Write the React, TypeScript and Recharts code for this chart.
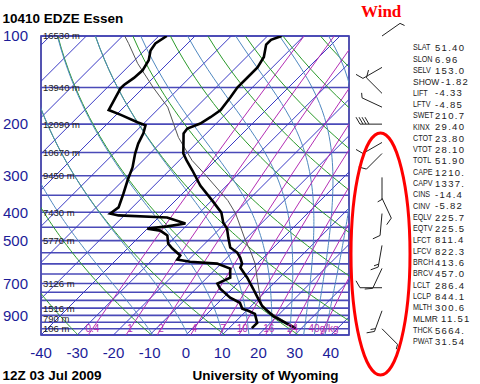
import React from 'react';
import { ComposedChart, Line, XAxis, YAxis, ReferenceLine, ReferenceArea, Scatter } from 'recharts';

// ---------- sounding data ----------
const tempPressure = [100, 103, 107, 118, 128, 138, 150, 162, 179, 189, 199, 207, 215, 252, 266, 288, 324, 365, 401, 434, 455, 488, 528, 549, 571, 599, 618, 669, 730, 789, 834, 854, 903, 961, 995];
const tempValues = [-56.1, -58.0, -58.0, -55.2, -54.1, -54.1, -54.1, -53.3, -52.5, -53.3, -54.4, -56.6, -56.3, -50.8, -48.0, -43.6, -37.3, -29.8, -24.0, -20.7, -18.0, -15.2, -11.9, -8.6, -6.4, -4.2, -3.6, 1.1, 5.8, 9.9, 12.9, 14.6, 18.7, 24.8, 28.4];

const dewPressure = [100, 106, 112, 121, 131, 139, 147, 151, 162, 179, 186, 197, 202, 215, 233, 252, 281, 311, 345, 385, 404, 410, 417, 437, 447, 455, 462, 480, 512, 532, 562, 580, 590, 599, 623, 669, 701, 730, 783, 815, 854, 868, 889, 954, 995];
const dewValues = [-87.8, -88.9, -88.3, -86.1, -85.0, -85.3, -86.1, -86.1, -85.0, -83.4, -78.7, -72.1, -69.0, -67.4, -66.0, -64.1, -61.0, -58.8, -56.3, -53.8, -54.4, -51.6, -37.6, -30.9, -35.1, -40.0, -35.9, -32.6, -30.1, -27.6, -23.5, -23.2, -19.1, -11.1, -6.1, -3.6, -5.5, -3.3, 1.9, 6.0, 8.3, 10.5, 13.2, 16.3, 16.3];

const parcelPressure = [100, 106, 124, 150, 175, 199, 222, 266, 295, 365, 404, 500, 541, 599, 669, 783, 844, 995];
const parcelValues = [-99.4, -96.3, -88.3, -77.3, -67.9, -61.8, -56.6, -46.5, -39.5, -25.5, -19.8, -9.6, -5.5, -0.6, 3.8, 10.2, 13.3, 28.4];

// winds: pressure (hPa), direction (deg), speed (kt)
const windPressure = [100, 128, 157, 175, 200, 231, 252, 304, 358, 404, 519, 622, 724, 868, 1000];
const windDirection = [55, 240, 315, 295, 270, 240, 225, 180, 155, 185, 190, 205, 270, 200, 135];
const windSpeed = [5, 10, 10, 5, 40, 10, 10, 5, 10, 10, 15, 10, 10, 15, 5];

// axis ticks
const pressureTicks = [100, 200, 300, 400, 500, 600, 700, 800, 900];
const tempTicks = [-40, -30, -20, -10, 0, 10, 20, 30, 40];
const isobarLevels = [100, 150, 200, 250, 300, 350, 400, 450, 500, 550, 600, 650, 700, 750, 800, 850, 900, 950, 1000, 1050];
const heightLevels = [100, 150, 200, 250, 300, 400, 500, 700, 850, 925, 1000];
const heightLabels = ['16530 m', '13940 m', '12090 m', '10670 m', '9450 m', '7430 m', '5770 m', '3126 m', '1516 m', '790 m', '106 m'];

// background reference lines
const isotherms = [-130, -120, -110, -100, -90, -80, -70, -60, -50, -40, -30, -20, -10, 0, 10, 20, 30, 40];
const dryThetas = [240, 260, 280, 300, 320, 340, 360, 380, 400, 420, 440, 460];
const moistThetaW = [-12, -2, 8, 15.5, 22, 27, 31, 34, 37];
const mixRatios = [0.4, 1, 2, 4, 7, 10, 16, 24, 40];
const mixLabels = ['0.4', '1', '2', '4', '7', '10', '16', '24', '40g/kg'];

const statNames = ['SLAT', 'SLON', 'SELV', 'SHOW', 'LIFT', 'LFTV', 'SWET', 'KINX', 'CTOT', 'VTOT', 'TOTL', 'CAPE', 'CAPV', 'CINS', 'CINV', 'EQLV', 'EQTV', 'LFCT', 'LFCV', 'BRCH', 'BRCV', 'LCLT', 'LCLP', 'MLTH', 'MLMR', 'THCK', 'PWAT'];
const statValues = ['51.40', '6.96', '153.0', '-1.82', '-4.33', '-4.85', '210.7', '29.40', '23.80', '28.10', '51.90', '1210.', '1337.', '-14.4', '-5.82', '225.7', '225.5', '811.4', '822.3', '413.6', '457.0', '286.4', '844.1', '300.6', '11.51', '5664.', '31.54'];

// ---------- skew transform ----------
const P_BOTTOM = 1050;
const SKEW = 80.8;
const skewX = (t: number, p: number) => t + SKEW * Math.log10(P_BOTTOM / p);

const series = (ps: number[], ts: number[]) => ps.map((p, i) => ({ x: skewX(ts[i], p), p }));
const tempData = series(tempPressure, tempValues);
const dewData = series(dewPressure, dewValues);
const parcelData = series(parcelPressure, parcelValues);

const levels: number[] = [];
for (let p = 1050; p >= 100; p -= 10) levels.push(p);

const isothermData = isotherms.map((t) => [{ x: skewX(t, 1050), p: 1050 }, { x: skewX(t, 100), p: 100 }]);
const dryData = dryThetas.map((th) => levels.map((p) => ({ x: skewX(th * Math.pow(p / 1000, 0.286) - 273.15, p), p })));

const es = (tc: number) => 6.112 * Math.exp((17.67 * tc) / (tc + 243.5));
const moistGrad = (p: number, tk: number) => {
  const Rd = 287.04, cp = 1005.7, Lv = 2.501e6, eps = 0.622;
  const e = es(tk - 273.15);
  const rs = (eps * e) / (p - e);
  return (Rd * tk + Lv * rs) / (p * (cp + (Lv * Lv * rs * eps) / (Rd * tk * tk)));
};
const moistData = moistThetaW.map((tw) => {
  const out: { x: number; p: number }[] = [];
  let tk = tw + 273.15;
  let p = 1000;
  const step = 2;
  while (p < 1050) {
    const k1 = moistGrad(p, tk);
    const k2 = moistGrad(p + step / 2, tk + (k1 * step) / 2);
    tk += k2 * step;
    p += step;
  }
  out.push({ x: skewX(tk - 273.15, 1050), p: 1050 });
  tk = tw + 273.15;
  p = 1000;
  out.push({ x: skewX(tk - 273.15, 1000), p: 1000 });
  while (p > 100) {
    const k1 = moistGrad(p, tk);
    const k2 = moistGrad(p - step / 2, tk - (k1 * step) / 2);
    tk -= k2 * step;
    p -= step;
    if (p % 10 === 0) out.push({ x: skewX(tk - 273.15, p), p });
  }
  return out;
});

const tdFromE = (e: number) => {
  const l = Math.log(e / 6.112);
  return (243.5 * l) / (17.67 - l);
};
const mixData = mixRatios.map((w) =>
  [1050, 900, 700, 500, 400, 300, 200, 150, 100].map((p) => ({ x: skewX(tdFromE((w * p) / (622 + w)), p), p }))
);
const mixLabelData = mixRatios.map((w, i) => ({ x: skewX(tdFromE((w * 1000) / (622 + w)), 1000), p: 1000, label: mixLabels[i] }));

const windData = windPressure.map((p, i) => ({ x: 0, p, dir: windDirection[i], spd: windSpeed[i] }));

// ---------- styles ----------
const NAVY = '#1c1c98';
const ISOTHERM = '#3a3ac4';
const DRY = '#2a9a2a';
const MOIST = '#4f88c0';
const MIX = '#b42eb4';
const FONT = '"Liberation Sans", Arial, sans-serif';

const MixLabel = (props: any) => {
  const { cx, cy, payload } = props;
  return (
    <text x={cx} y={cy} textAnchor="middle" dominantBaseline="central" fontSize={10} fill={MIX} fontFamily={FONT}>
      {payload.label}
    </text>
  );
};

const Barb = (props: any) => {
  const { cx, cy, payload } = props;
  const d = (payload.dir * Math.PI) / 180;
  const L = 22;
  const ux = Math.sin(d), uy = -Math.cos(d);
  const tx = cx + ux * L, ty = cy + uy * L;
  const b = d + (60 * Math.PI) / 180;
  const bx = Math.sin(b), by = -Math.cos(b);
  const segs: React.ReactNode[] = [];
  let remaining = Math.round(payload.spd / 5) * 5;
  let pos = 0;
  let k = 0;
  while (remaining >= 10) {
    const sx = tx - ux * pos, sy = ty - uy * pos;
    segs.push(<line key={k++} x1={sx} y1={sy} x2={sx + bx * 8} y2={sy + by * 8} />);
    pos += 3;
    remaining -= 10;
  }
  if (remaining === 5) {
    const sx = tx - ux * pos, sy = ty - uy * pos;
    segs.push(<line key={k++} x1={sx} y1={sy} x2={sx + bx * 5} y2={sy + by * 5} />);
  }
  return (
    <g stroke="#222" strokeWidth={1} fill="none">
      <line x1={cx} y1={cy} x2={tx} y2={ty} />
      {segs}
    </g>
  );
};

const thinLine = (key: string, data: any[], stroke: string, width = 1) => (
  <Line key={key} data={data} dataKey="p" stroke={stroke} strokeWidth={width} dot={false} activeDot={false} isAnimationActive={false} legendType="none" />
);

const wideLabels = ['SHOW', 'MLMR'];

export default function App() {
  return (
    <div style={{ position: 'absolute', left: 0, top: 0, width: 480, height: 384, background: '#fff', fontFamily: FONT }}>
      <ComposedChart width={480} height={384} margin={{ top: 36, right: 131, bottom: 0, left: 0 }} style={{ position: 'absolute', left: 0, top: 0 }}>
        <XAxis
          type="number"
          dataKey="x"
          domain={[-40, 45]}
          ticks={tempTicks}
          allowDataOverflow
          height={49}
          tickLine={false}
          axisLine={false}
          tickSize={0}
          tickMargin={12}
          tick={{ fill: NAVY, fontSize: 15, fontFamily: FONT }}
        />
        <YAxis
          type="number"
          dataKey="p"
          scale="log"
          domain={[100, 1050]}
          reversed
          ticks={pressureTicks}
          allowDataOverflow
          width={41}
          tickLine={false}
          axisLine={false}
          tickSize={0}
          tickMargin={13}
          tick={{ fill: NAVY, fontSize: 15, fontFamily: FONT }}
        />
        {isobarLevels.map((p) => (
          <ReferenceLine key={'iso' + p} y={p} stroke="#4a4ab8" strokeWidth={1.6} ifOverflow="extendDomain" />
        ))}
        {isothermData.map((d, i) => thinLine('it' + i, d, ISOTHERM))}
        {dryData.map((d, i) => thinLine('dry' + i, d, DRY))}
        {moistData.map((d, i) => thinLine('moist' + i, d, MOIST))}
        {mixData.map((d, i) => thinLine('mix' + i, d, MIX))}
        {heightLevels.map((p, i) => (
          <ReferenceLine
            key={'h' + p}
            y={p}
            stroke="none"
            label={{ value: heightLabels[i], position: 'insideLeft', offset: 2, fill: '#222', fontSize: 9.5, fontFamily: FONT }}
          />
        ))}
        <Scatter data={mixLabelData} dataKey="p" shape={MixLabel} isAnimationActive={false} legendType="none" />
        {thinLine('parcel', parcelData, '#555', 1)}
        {thinLine('temp', tempData, '#000', 2.6)}
        {thinLine('dew', dewData, '#000', 2.6)}
        <ReferenceArea x1={-40} x2={45} y1={100} y2={1050} fill="none" stroke={NAVY} strokeWidth={1.5} ifOverflow="visible" />
      </ComposedChart>

      <ComposedChart width={60} height={384} margin={{ top: 36, right: 0, bottom: 49, left: 0 }} style={{ position: 'absolute', left: 352, top: 0 }}>
        <XAxis type="number" dataKey="x" domain={[-1, 1]} hide />
        <YAxis type="number" dataKey="p" scale="log" domain={[100, 1050]} reversed hide />
        <Scatter data={windData} dataKey="p" shape={Barb} isAnimationActive={false} legendType="none" />
      </ComposedChart>

      <svg width={480} height={384} style={{ position: 'absolute', left: 0, top: 0, pointerEvents: 'none' }}>
        <ellipse cx={380.5} cy={254} rx={29.5} ry={121} fill="none" stroke="#ff0000" strokeWidth={3} />
        <text x={361} y={17} fontFamily='"Liberation Serif", "Times New Roman", serif' fontWeight="bold" fontSize={17} fill="#ff0000">
          Wind
        </text>
        <text x={2.5} y={22.5} fontWeight="bold" fontSize={13.5} fill="#000" fontFamily={FONT}>
          10410 EDZE Essen
        </text>
        <text x={2.5} y={380} fontWeight="bold" fontSize={13.5} fill="#000" fontFamily={FONT}>
          12Z 03 Jul 2009
        </text>
        <text x={192.5} y={380} fontWeight="bold" fontSize={13.5} fill="#000" fontFamily={FONT}>
          University of Wyoming
        </text>
        {statNames.map((n, i) => {
          const wide = wideLabels.includes(n);
          const y = 47.7 + i * 11.3;
          return (
            <g key={n} fill="#222" fontFamily={FONT}>
              <text transform={`translate(413 ${y}) scale(${wide ? 0.92 : 0.78} 1)`} dominantBaseline="central" fontSize={9.2}>
                {n}
              </text>
              <text x={wide ? 441 : 435} y={y} dominantBaseline="central" fontSize={9.5} letterSpacing={1.3}>
                {statValues[i]}
              </text>
            </g>
          );
        })}
      </svg>
    </div>
  );
}
